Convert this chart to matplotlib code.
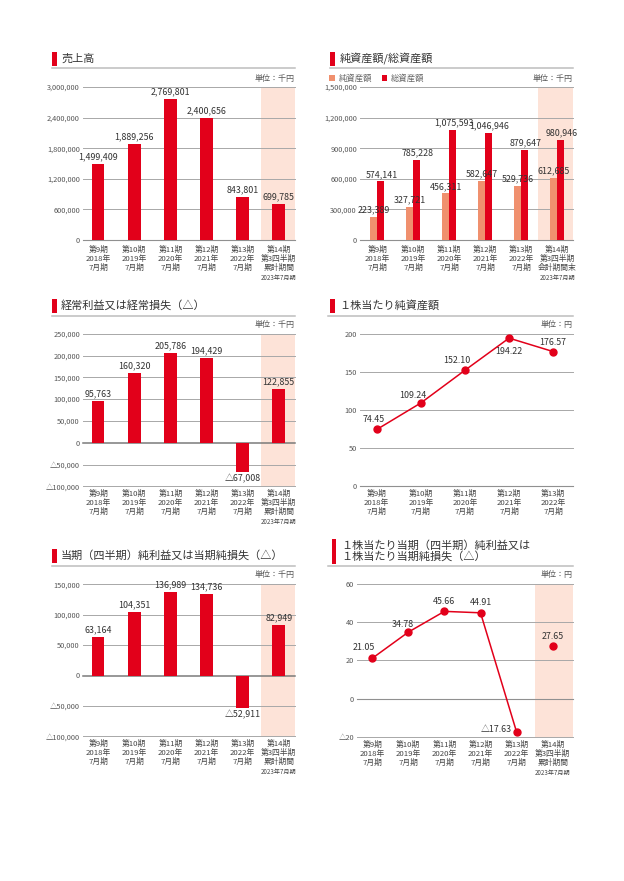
import matplotlib
matplotlib.use("Agg")
import matplotlib.pyplot as plt
from matplotlib.patches import Rectangle
from matplotlib.lines import Line2D

# ---------------- data ----------------
periods = ['第9期', '第10期', '第11期', '第12期', '第13期', '第14期']
years = ['2018年', '2019年', '2020年', '2021年', '2022年']
sales = [1499409, 1889256, 2769801, 2400656, 843801, 699785]
net_assets = [223389, 327721, 456311, 582647, 529736, 612685]
total_assets = [574141, 785228, 1075593, 1046946, 879647, 980946]
ordinary = [95763, 160320, 205786, 194429, -67008, 122855]
bps = [74.45, 109.24, 152.10, 194.22, 176.57]
net_income = [63164, 104351, 136989, 134736, -52911, 82949]
eps = [21.05, 34.78, 45.66, 44.91, -17.63, 27.65]

# ---------------- style ----------------
RED = '#E2001A'
SALMON = '#F0906E'
BAND = '#FDE3D8'
GRID = '#A8A8A8'
TXT = '#333333'
CJK = 'Noto Sans CJK JP'
NARROW = ['Liberation Sans Narrow', 'Noto Sans CJK JP']
plt.rcParams['font.family'] = [CJK, 'DejaVu Sans']

W, H = 624, 881
fig = plt.figure(figsize=(W / 100, H / 100), dpi=100)
fig.patch.set_facecolor('white')


def fx(x):
    return x / W


def fy(y):
    return 1 - y / H


def px2pt(p):
    return p * 0.72


def make_ax(x0, x1, y0, y1, xlim, ylim, ticks, fmt, strong_zero=False):
    ax = fig.add_axes([fx(x0), fy(y1), (x1 - x0) / W, (y1 - y0) / H])
    ax.set_xlim(*xlim)
    ax.set_ylim(*ylim)
    for s in ax.spines.values():
        s.set_visible(False)
    ax.set_xticks([])
    ax.set_yticks(ticks)
    ax.set_yticklabels([fmt(t) for t in ticks])
    ax.tick_params(axis='y', length=0, pad=2.2, labelsize=5.3, labelcolor='#555555')
    for lab in ax.get_yticklabels():
        lab.set_family(NARROW)
    for t in ticks:
        if t == 0 and strong_zero:
            ax.axhline(t, color='#7A7A7A', lw=1.1, zorder=1.5, clip_on=False)
        elif t == 0:
            ax.axhline(t, color='#909090', lw=0.8, zorder=1, clip_on=False)
        else:
            ax.axhline(t, color=GRID, lw=0.7, zorder=1, clip_on=False)
    ax.patch.set_alpha(0)
    return ax


def fmt_int(v):
    v = int(v)
    if v < 0:
        return '△' + f'{-v:,}'
    return f'{v:,}'


def fmt_small(v):
    v = int(v)
    if v < 0:
        return '△' + str(-v)
    return str(v)


def header(lines, x_mark, x_text, y_centers, x_line_end, y_line, unit, y_unit, x_line_start=None):
    top = y_centers[0] - 7
    bot = y_centers[-1] + 7
    fig.add_artist(Rectangle((fx(x_mark), fy(bot)), 4.5 / W, (bot - top) / H,
                             transform=fig.transFigure, color=RED, lw=0))
    for ln, yc in zip(lines, y_centers):
        fig.text(fx(x_text), fy(yc), ln, fontsize=8, color=TXT, ha='left', va='center',
                 family=[CJK])
    xs = x_line_start if x_line_start is not None else x_mark
    fig.add_artist(Line2D([fx(xs), fx(x_line_end)], [fy(y_line), fy(y_line)],
                          transform=fig.transFigure, color='#BDBDBD', lw=1.1))
    if unit:
        fig.text(fx(x_line_end), fy(y_unit), unit, fontsize=5.8, color='#555555',
                 ha='right', va='center', family=[CJK])


def cat_labels(ax, n, last_lines, first_off):
    for i in range(n):
        if i < 5:
            lines = [periods[i], years[i], '7月期']
        else:
            lines = last_lines
        offs = [first_off, first_off + 9, first_off + 18, first_off + 28]
        for j, ln in enumerate(lines):
            fs = 4.4 if j == 3 else 5.6
            ax.annotate(ln, xy=(i, 0), xycoords=('data', 'axes fraction'),
                        xytext=(0, -px2pt(offs[j])), textcoords='offset points',
                        ha='center', va='center', fontsize=fs, color='#444444',
                        family=NARROW, annotation_clip=False)


def val_label(ax, x, y, text, dx=0, dy=7, ha='center'):
    ax.annotate(text, xy=(x, y), xytext=(px2pt(dx), px2pt(dy)), textcoords='offset points',
                ha=ha, va='center', fontsize=6.4, color=TXT, family=NARROW,
                annotation_clip=False, zorder=5)


q_lines = ['第14期', '第3四半期', '累計期間', '2023年7月期']
q_lines2 = ['第14期', '第3四半期', '会計期間末', '2023年7月期']

# ---------------- Panel 1: 売上高 ----------------
header(['売上高'], 52, 61, [58.5], 295, 68.3, '単位：千円', 78)
ax1 = make_ax(83, 295, 87, 240, (-0.42, 5.45), (0, 3000000),
              [0, 600000, 1200000, 1800000, 2400000, 3000000], fmt_int)
ax1.axvspan(4.5, 5.45, color=BAND, zorder=0, lw=0)
ax1.bar(range(6), sales, width=0.35, color=RED, zorder=2)
for i, v in enumerate(sales):
    val_label(ax1, i, v, fmt_int(v))
cat_labels(ax1, 6, q_lines, 10.3)

# ---------------- Panel 2: 純資産額/総資産額 ----------------
header(['純資産額/総資産額'], 330, 340, [58.5], 573, 68.3, '単位：千円', 78)
fig.add_artist(Rectangle((fx(329), fy(81)), 5.5 / W, 5.5 / H, transform=fig.transFigure,
                         color=SALMON, lw=0))
fig.text(fx(339), fy(78), '純資産額', fontsize=6, color='#666666', va='center', family=[CJK])
fig.add_artist(Rectangle((fx(381.5), fy(81)), 5.5 / W, 5.5 / H, transform=fig.transFigure,
                         color=RED, lw=0))
fig.text(fx(391), fy(78), '総資産額', fontsize=6, color='#666666', va='center', family=[CJK])
ax2 = make_ax(360, 573, 87, 240, (-0.48, 5.44), (0, 1500000),
              [0, 300000, 600000, 900000, 1200000, 1500000], fmt_int)
ax2.axvspan(4.47, 5.44, color=BAND, zorder=0, lw=0)
xs = list(range(6))
bw = 0.19
ax2.bar([x - bw / 2 for x in xs], net_assets, width=bw, color=SALMON, zorder=2)
ax2.bar([x + bw / 2 for x in xs], total_assets, width=bw, color=RED, zorder=2)
for i in xs:
    val_label(ax2, i - bw / 2, net_assets[i], fmt_int(net_assets[i]))
    val_label(ax2, i + bw / 2, total_assets[i], fmt_int(total_assets[i]), dx=1)
cat_labels(ax2, 6, q_lines2, 10.3)

# ---------------- Panel 3: 経常利益 ----------------
header(['経常利益又は経常損失（△）'], 52, 61, [305.7], 295, 315.7, '単位：千円', 324)
ax3 = make_ax(83, 295, 333.7, 486.3, (-0.42, 5.45), (-100000, 250000),
              list(range(-100000, 250001, 50000)), fmt_int, strong_zero=True)
ax3.axvspan(4.5, 5.45, color=BAND, zorder=0, lw=0)
ax3.bar(range(6), ordinary, width=0.35, color=RED, zorder=2)
for i, v in enumerate(ordinary):
    if v < 0:
        val_label(ax3, i, v, fmt_int(v), dy=-7)
    else:
        val_label(ax3, i, v, fmt_int(v))
cat_labels(ax3, 6, q_lines, 7.9)

# ---------------- Panel 4: 1株当たり純資産額 ----------------
header(['１株当たり純資産額'], 330, 339, [305.7], 573, 315.7, '単位：円', 324, x_line_start=328)
ax4 = make_ax(360, 573, 333.7, 486.3, (-0.38, 4.45), (0, 200),
              [0, 50, 100, 150, 200], fmt_small)
ax4.plot(range(5), bps, color=RED, lw=1.1, marker='o', markersize=5, zorder=3, clip_on=False)
bps_off = [(-3, 9.5), (-8, 7.5), (-8, 9.5), (0, -13), (0, 9.5)]
for i, v in enumerate(bps):
    val_label(ax4, i, v, f'{v:.2f}', dx=bps_off[i][0], dy=bps_off[i][1])
cat_labels(ax4, 5, None, 7.9)

# ---------------- Panel 5: 当期純利益 ----------------
header(['当期（四半期）純利益又は当期純損失（△）'], 52, 61, [555.7], 295, 565.7, '単位：千円', 574.3)
ax5 = make_ax(83, 295, 584.3, 736.3, (-0.42, 5.45), (-100000, 150000),
              list(range(-100000, 150001, 50000)), fmt_int, strong_zero=True)
ax5.axvspan(4.5, 5.45, color=BAND, zorder=0, lw=0)
ax5.bar(range(6), net_income, width=0.35, color=RED, zorder=2)
for i, v in enumerate(net_income):
    if v < 0:
        val_label(ax5, i, v, fmt_int(v), dy=-7)
    else:
        val_label(ax5, i, v, fmt_int(v))
cat_labels(ax5, 6, q_lines, 7.9)

# ---------------- Panel 6: EPS ----------------
header(['１株当たり当期（四半期）純利益又は', '１株当たり当期純損失（△）'], 331.5, 341,
       [545.7, 556.7], 573, 565.7, '単位：円', 575, x_line_start=328)
ax6 = make_ax(357, 573, 584, 736.7, (-0.42, 5.56), (-20, 60),
              [-20, 0, 20, 40, 60], fmt_small)
ax6.axvspan(4.5, 5.56, color=BAND, zorder=0, lw=0)
ax6.plot(range(5), eps[:5], color=RED, lw=1.1, marker='o', markersize=5, zorder=3, clip_on=False)
ax6.plot([5], [eps[5]], color=RED, marker='o', markersize=5, zorder=3, lw=0)
eps_off = [(-8, 11), (-5, 8), (0, 10), (0, 10), (-5, 3), (0, 9)]
for i, v in enumerate(eps):
    txt = ('△' + f'{-v:.2f}') if v < 0 else f'{v:.2f}'
    ha = 'right' if v < 0 else 'center'
    val_label(ax6, i, v, txt, dx=eps_off[i][0], dy=eps_off[i][1], ha=ha)
cat_labels(ax6, 6, q_lines, 8.3)

fig.savefig('out.png', dpi=100, facecolor='white')
